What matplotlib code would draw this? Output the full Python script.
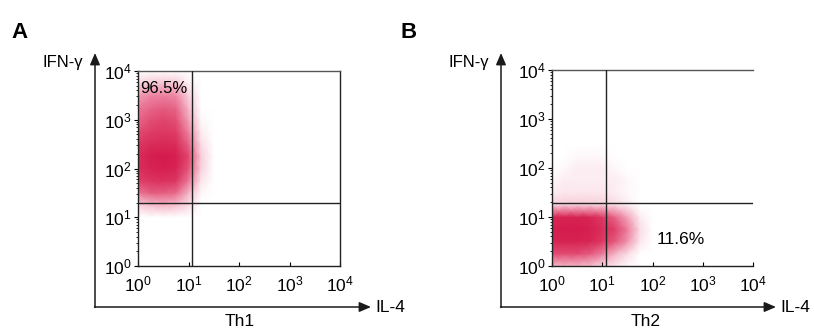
import numpy as np
import matplotlib
matplotlib.use('Agg')
import matplotlib.pyplot as plt
from matplotlib.colors import LinearSegmentedColormap
from matplotlib.ticker import LogLocator

plt.rcParams['font.family'] = ['Liberation Sans', 'DejaVu Sans']

# density of events (log10 grid nodes, relative 0-1)
th1_logx = [0.0, 0.25, 0.5, 0.75, 1.0, 1.25, 1.5]
th1_logy = [1.0, 1.25, 1.5, 1.75, 2.0, 2.25, 2.5, 2.75, 3.0, 3.25, 3.5, 3.75, 4.0]
th1_density = [
    [0.00, 0.00, 0.00, 0.00, 0.00, 0.00, 0.00],
    [0.06, 0.10, 0.12, 0.10, 0.04, 0.00, 0.00],
    [0.28, 0.38, 0.38, 0.33, 0.12, 0.01, 0.00],
    [0.50, 0.65, 0.70, 0.65, 0.28, 0.03, 0.00],
    [0.72, 0.88, 0.95, 0.88, 0.42, 0.06, 0.00],
    [0.78, 0.95, 1.00, 0.95, 0.48, 0.07, 0.00],
    [0.62, 0.78, 0.82, 0.78, 0.36, 0.04, 0.00],
    [0.45, 0.55, 0.60, 0.55, 0.24, 0.02, 0.00],
    [0.34, 0.44, 0.48, 0.44, 0.16, 0.01, 0.00],
    [0.26, 0.34, 0.38, 0.34, 0.11, 0.00, 0.00],
    [0.16, 0.22, 0.24, 0.21, 0.06, 0.00, 0.00],
    [0.05, 0.08, 0.09, 0.08, 0.02, 0.00, 0.00],
    [0.00, 0.00, 0.00, 0.00, 0.00, 0.00, 0.00],
]

th2_logx = [0.0, 0.25, 0.5, 0.75, 1.0, 1.25, 1.5, 1.75, 2.0]
th2_logy = [0.0, 0.25, 0.5, 0.75, 1.0, 1.25, 1.5, 1.75, 2.0, 2.25, 2.5, 2.75, 3.0]
th2_density = [
    [0.12, 0.12, 0.12, 0.10, 0.05, 0.03, 0.01, 0.00, 0.00],
    [0.45, 0.45, 0.45, 0.40, 0.25, 0.12, 0.04, 0.00, 0.00],
    [0.85, 0.90, 0.90, 0.85, 0.60, 0.40, 0.18, 0.03, 0.00],
    [0.95, 1.00, 1.00, 0.95, 0.75, 0.50, 0.25, 0.04, 0.00],
    [0.85, 0.90, 0.90, 0.85, 0.60, 0.35, 0.15, 0.02, 0.00],
    [0.06, 0.07, 0.07, 0.07, 0.06, 0.04, 0.02, 0.00, 0.00],
    [0.02, 0.03, 0.03, 0.03, 0.03, 0.02, 0.01, 0.00, 0.00],
    [0.01, 0.02, 0.02, 0.02, 0.02, 0.02, 0.01, 0.00, 0.00],
    [0.00, 0.01, 0.02, 0.02, 0.02, 0.01, 0.00, 0.00, 0.00],
    [0.00, 0.00, 0.01, 0.01, 0.01, 0.00, 0.00, 0.00, 0.00],
    [0.00, 0.00, 0.00, 0.00, 0.00, 0.00, 0.00, 0.00, 0.00],
    [0.00, 0.00, 0.00, 0.00, 0.00, 0.00, 0.00, 0.00, 0.00],
    [0.00, 0.00, 0.00, 0.00, 0.00, 0.00, 0.00, 0.00, 0.00],
]

gate_il4 = [11.7, 11.9]
gate_ifng = [19.5, 19.5]
percent_labels = ['96.5%', '11.6%']
percent_pos = [(1.1, 4400), (120, 3.4)]
panel_letters = ['A', 'B']
cell_names = ['Th1', 'Th2']

cmap = LinearSegmentedColormap.from_list(
    'facs', [(0.0, '#ffffff'), (0.04, '#f9dbe4'), (0.2, '#ee8aa6'),
             (0.5, '#df4069'), (1.0, '#d41c4d')])

fig = plt.figure(figsize=(8.14, 3.31), dpi=100)
W, H = 814, 331


def px_axes(left, top, right, bottom):
    return fig.add_axes([left / W, (H - bottom) / H, (right - left) / W, (bottom - top) / H])


panels = [
    dict(box=(138, 71, 340, 266), lx=th1_logx, ly=th1_logy, d=th1_density, right_spine=True),
    dict(box=(552, 70, 753, 266), lx=th2_logx, ly=th2_logy, d=th2_density, right_spine=False),
]

for i, p in enumerate(panels):
    ax = px_axes(*p['box'])
    X, Y = np.meshgrid(10 ** np.array(p['lx']), 10 ** np.array(p['ly']))
    ax.pcolormesh(X, Y, np.array(p['d']), cmap=cmap, vmin=0, vmax=1,
                  shading='gouraud', zorder=1, rasterized=True)
    ax.set_xscale('log')
    ax.set_yscale('log')
    ax.set_xlim(1, 1e4)
    ax.set_ylim(1, 1e4)
    ax.set_xticks([1, 10, 100, 1000, 10000])
    ax.set_yticks([1, 10, 100, 1000, 10000])
    ax.xaxis.set_minor_locator(LogLocator(base=10, subs=np.arange(2, 10)))
    ax.yaxis.set_minor_locator(LogLocator(base=10, subs=np.arange(2, 10)))
    ax.tick_params(axis='x', which='major', direction='in', length=3, width=0.8,
                   labelsize=12.5, pad=6)
    ax.tick_params(axis='y', which='major', direction='out', length=3, width=0.8,
                   labelsize=12.5, pad=1.5)
    ax.tick_params(which='minor', length=1.8, width=0.6)
    ax.tick_params(axis='x', which='minor', direction='in')
    ax.tick_params(axis='y', which='minor', direction='out')
    for s in ax.spines.values():
        s.set_linewidth(1.0)
        s.set_color('#222222')
    ax.spines['right'].set_visible(p['right_spine'])
    ax.spines['top'].set_color('#555555')

    # quadrant gates
    ax.axvline(gate_il4[i], color='#222222', lw=1.0, zorder=3)
    ax.axhline(gate_ifng[i], color='#222222', lw=1.0, zorder=3)

    ax.text(*percent_pos[i], percent_labels[i], fontsize=12.5 if i else 12,
            ha='left', va='center', zorder=4)

# outer arrows and labels drawn in pixel coordinates
ov = fig.add_axes([0, 0, 1, 1], facecolor='none')
ov.set_xlim(0, W)
ov.set_ylim(H, 0)
ov.axis('off')

arrow = dict(arrowstyle='-|>,head_length=0.7,head_width=0.3', color='#1a1a1a', lw=1.1,
             shrinkA=0, shrinkB=0)
origins = [(95, 307), (501, 307)]
x_ends = [371, 776]
for i, (ox, oy) in enumerate(origins):
    ov.annotate('', xy=(ox, 53), xytext=(ox, oy + 0.5), arrowprops=arrow)
    ov.annotate('', xy=(x_ends[i], oy), xytext=(ox - 0.5, oy), arrowprops=arrow)
    ov.text(ox - 12, 62, 'IFN-γ', fontsize=12, ha='right', va='center')
    ov.text(x_ends[i] + 4, oy, 'IL-4', fontsize=12.5, ha='left', va='center')
    ov.text((ox + x_ends[i]) / 2 + 7, 322, cell_names[i], fontsize=12.5,
            ha='center', va='center')
    ov.text(ox - 84 if i == 0 else ox - 101, 32, panel_letters[i], fontsize=16,
            fontweight='bold', ha='left', va='center')

fig.savefig('out.png', dpi=100, facecolor='white')
